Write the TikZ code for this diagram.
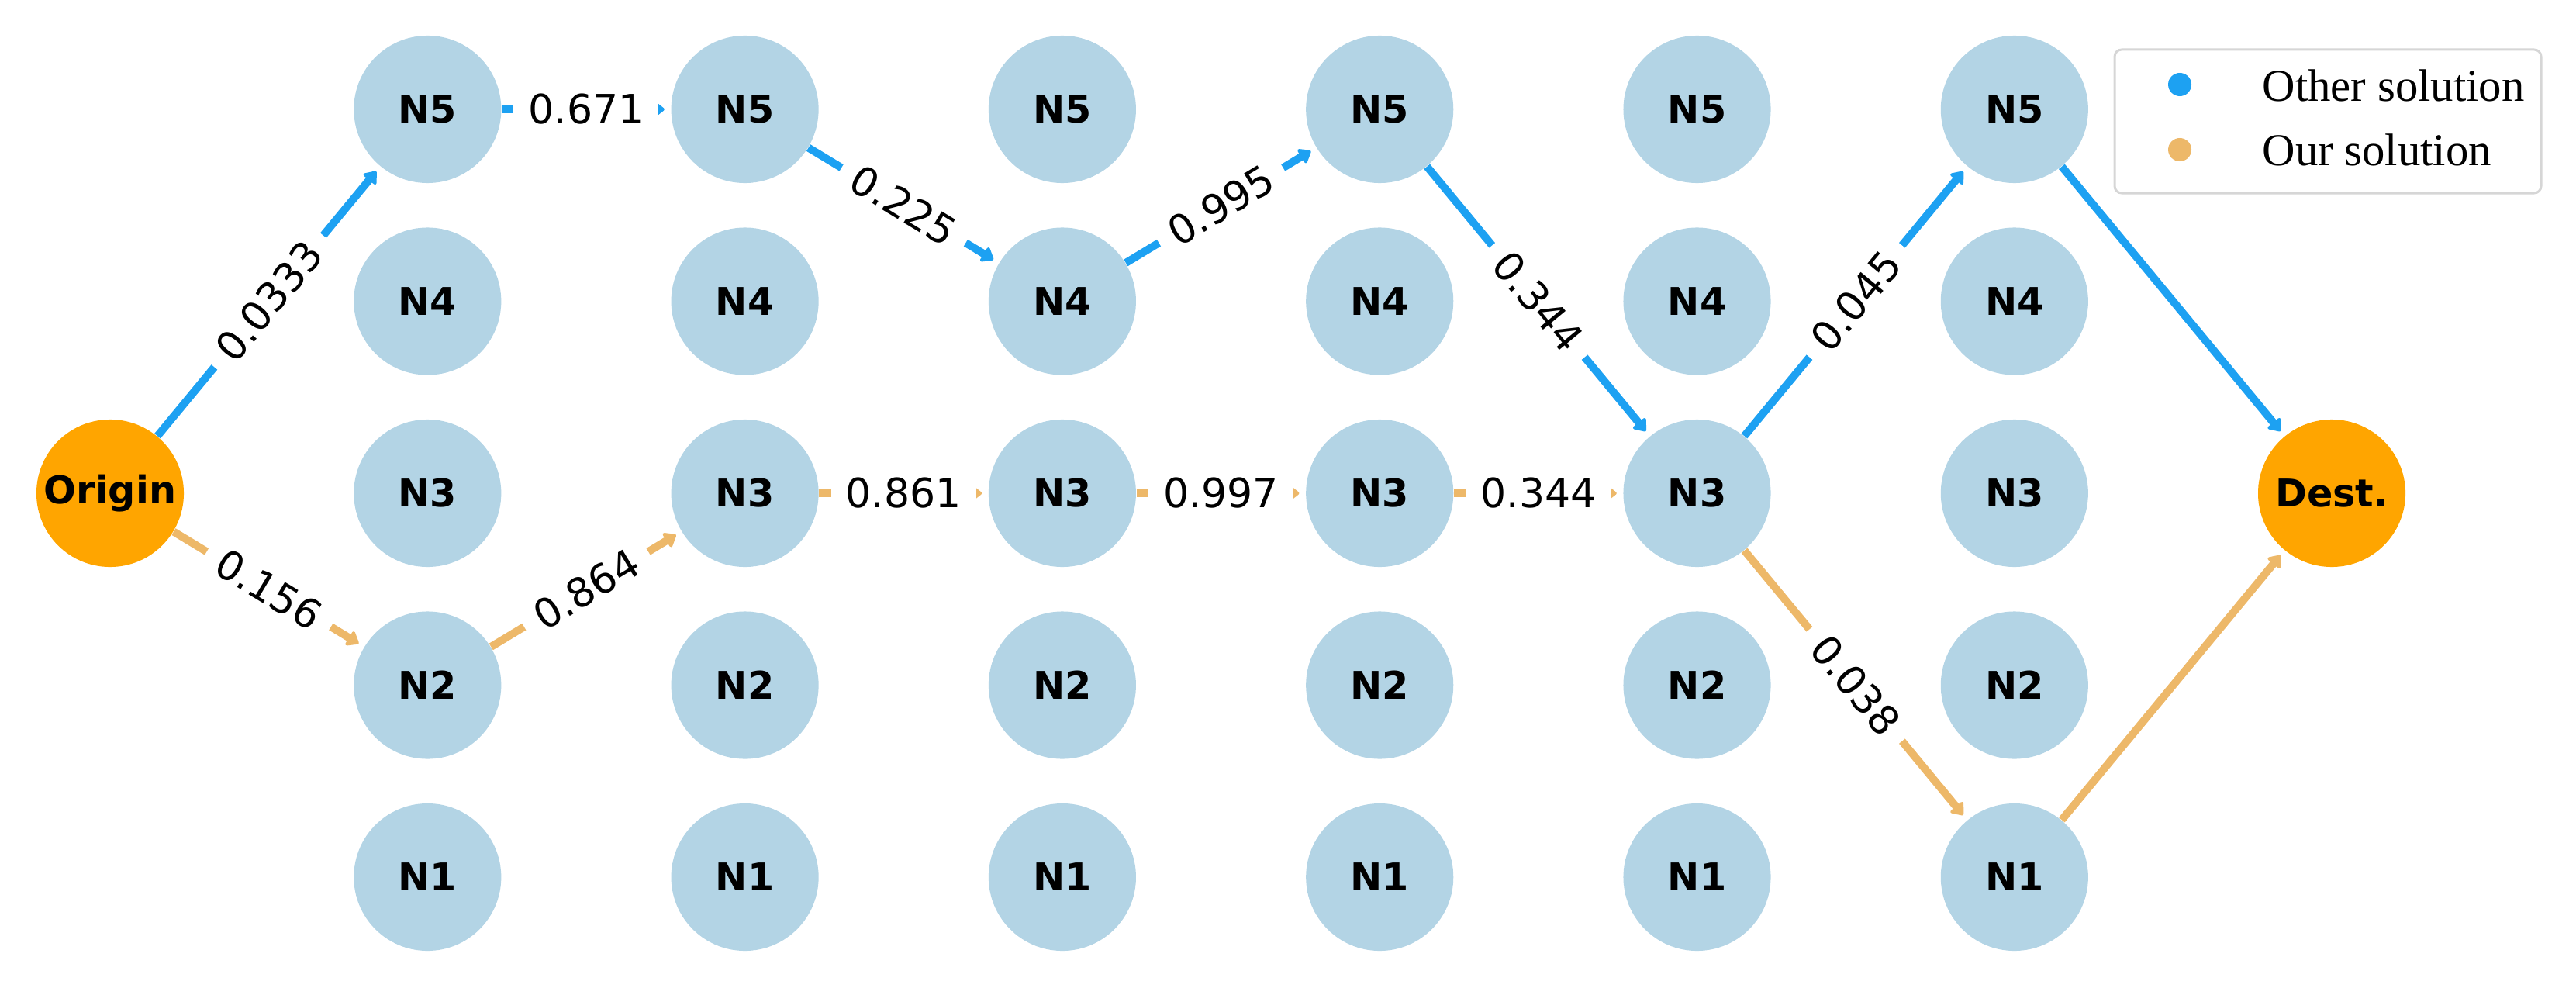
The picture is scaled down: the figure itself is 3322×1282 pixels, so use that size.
\documentclass[tikz,border=0pt]{standalone}
\usepackage{fontspec}
\setmainfont{DejaVu Sans}
\newfontfamily\legfont{Liberation Serif}
\usetikzlibrary{arrows.meta}
\definecolor{nodeblue}{HTML}{B3D4E5}
\definecolor{endorange}{HTML}{FFA500}
\definecolor{otherblue}{HTML}{1DA1F2}
\definecolor{ourorange}{HTML}{EDB869}
\definecolor{legendgray}{HTML}{D6D6D6}
\begin{document}
\begin{tikzpicture}[x=0.01cm,y=-0.01cm,
  gnode/.style={circle,fill=nodeblue,minimum size=1.9cm,inner sep=0pt,
    font=\fontsize{14}{16}\selectfont\bfseries},
  endnode/.style={gnode,fill=endorange},
  arr/.style={line width=0.1cm,-{Triangle[length=0.16cm,width=0.24cm,round]},shorten >=0.08cm},
  otheredge/.style={arr,draw=otherblue},
  ouredge/.style={arr,draw=ourorange},
  elabel/.style={sloped,fill=white,inner xsep=0.19cm,inner ysep=0.1cm,
    font=\fontsize{14.8}{17}\selectfont,text=black},
  legtext/.style={anchor=base west,inner sep=0pt,font=\legfont\fontsize{16.7}{19}\selectfont}
]
\useasboundingbox (0,0) rectangle (3322,1282);
% nodes
\node[endnode] (O) at (142,636) {Origin};
\node[endnode] (D) at (3007,636) {Dest.};
\foreach \c in {1,...,6}{
  \foreach \r in {1,...,5}{
    \node[gnode] (c\c n\r) at ({142+409.3*\c},{636+(3-\r)*247.5}) {N\r};
  }
}
% other solution
\draw[otheredge] (O) -- node[elabel]{0.0333} (c1n5);
\draw[otheredge] (c1n5) -- node[elabel]{0.671} (c2n5);
\draw[otheredge] (c2n5) -- node[elabel]{0.225} (c3n4);
\draw[otheredge] (c3n4) -- node[elabel]{0.995} (c4n5);
\draw[otheredge] (c4n5) -- node[elabel]{0.344} (c5n3);
\draw[otheredge] (c5n3) -- node[elabel]{0.045} (c6n5);
\draw[otheredge] (c6n5) -- (D);
% our solution
\draw[ouredge] (O) -- node[elabel]{0.156} (c1n2);
\draw[ouredge] (c1n2) -- node[elabel]{0.864} (c2n3);
\draw[ouredge] (c2n3) -- node[elabel]{0.861} (c3n3);
\draw[ouredge] (c3n3) -- node[elabel]{0.997} (c4n3);
\draw[ouredge] (c4n3) -- node[elabel]{0.344} (c5n3);
\draw[ouredge] (c5n3) -- node[elabel]{0.038} (c6n1);
\draw[ouredge] (c6n1) -- (D);
% legend
\draw[legendgray,line width=0.03cm,rounded corners=0.09cm,fill=white] (2727,64) rectangle (3277,249);
\fill[otherblue] (2811,109) circle[radius=0.15cm];
\fill[ourorange] (2811,193) circle[radius=0.15cm];
\node[legtext] (lg1) at (2917,130) {Other solution};
\node[legtext] (lg2) at (2917,213) {Our solution};
\end{tikzpicture}
\end{document}
